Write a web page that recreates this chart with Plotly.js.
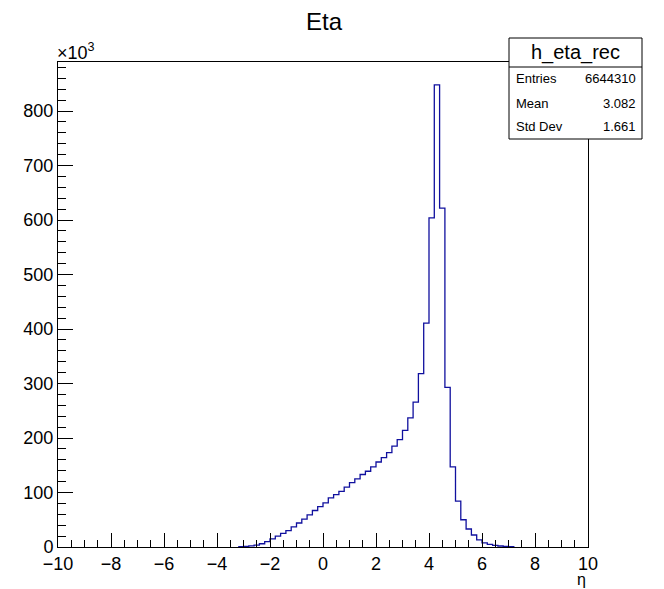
<!DOCTYPE html>
<html><head><meta charset="utf-8">
<script src="https://cdn.plot.ly/plotly-3.0.1.min.js"></script>
<style>html,body{margin:0;padding:0;background:#fff;} #chart{width:664px;height:589px;}</style>
</head><body><div id="chart"></div>
<script>
// ---- data ----
const histTitle = "Eta";
const histName = "h_eta_rec";
const xAxisLabel = "η";
const binWidth = 0.2;
const firstBinLowEdge = -3.2;
// bin contents in units of 10^3 entries, bins from -3.2 to 7.2
const countsThousands = [
  0.8, 1.2, 2, 3.5, 6, 10, 15, 20, 25, 30, 37, 44, 51, 59, 67, 74,
  81, 90, 96, 102, 110, 118, 125, 133, 139, 147, 156, 164, 173, 185, 197, 214,
  237, 266, 318, 411, 604, 848, 622, 293, 147, 84, 50, 33, 22, 13, 7.5, 5, 2.8, 1.8, 1.2, 0.8
];
const statLabels = ["Entries", "Mean", "Std Dev"];
const statValues = ["6644310", "3.082", "1.661"];
const xTickVals = [-10, -8, -6, -4, -2, 0, 2, 4, 6, 8, 10];
const yTickVals = [0, 100, 200, 300, 400, 500, 600, 700, 800];

// ---- build step outline ----
const xs = [], ys = [];
for (let i = 0; i < countsThousands.length; i++) {
  xs.push(firstBinLowEdge + i * binWidth);
  ys.push(countsThousands[i]);
}
const lastEdge = firstBinLowEdge + countsThousands.length * binWidth;
xs.push(lastEdge); ys.push(countsThousands[countsThousands.length - 1]);
xs.push(lastEdge); ys.push(0);

// ---- layout geometry ----
const W = 664, H = 589, L = 58, R = 76, T = 62, B = 42;
const pw = W - L - R, ph = H - T - B;
const px = p => (p - L) / pw;
const py = p => (H - B - p) / ph;
const FONT = "Liberation Sans, Arial, Helvetica, sans-serif";

const trace = {
  type: "scatter", mode: "lines", x: xs, y: ys,
  line: {shape: "hv", color: "#10109e", width: 1.3},
  hoverinfo: "skip", showlegend: false, cliponaxis: true
};

const axisCommon = {
  showgrid: false, zeroline: false, showline: true, linecolor: "#000", linewidth: 1,
  mirror: true, ticks: "inside", tickcolor: "#000", tickwidth: 1,
  tickfont: {family: FONT, size: 18, color: "#000"}, tickmode: "array"
};

const layout = {
  width: W, height: H,
  margin: {l: L, r: R, t: T, b: B, pad: 0},
  paper_bgcolor: "#fff", plot_bgcolor: "#fff",
  title: {text: histTitle, x: 324 / W, xanchor: "center", y: 1 - 22 / H, yanchor: "middle",
          font: {family: FONT, size: 24, color: "#000"}},
  xaxis: Object.assign({}, axisCommon, {
    range: [-10, 10], tickvals: xTickVals, ticklen: 14,
    minor: {dtick: 0.5, tick0: 0, ticks: "inside", ticklen: 7, tickcolor: "#000", tickwidth: 1, showgrid: false}
  }),
  yaxis: Object.assign({}, axisCommon, {
    range: [0, 890], tickvals: yTickVals, ticklen: 15,
    minor: {dtick: 20, tick0: 0, ticks: "inside", ticklen: 8, tickcolor: "#000", tickwidth: 1, showgrid: false}
  }),
  shapes: [
    {type: "rect", xref: "paper", yref: "paper", x0: px(509), x1: px(642), y0: py(139), y1: py(38),
     line: {color: "#000", width: 1}, fillcolor: "#fff", layer: "above"},
    {type: "line", xref: "paper", yref: "paper", x0: px(509), x1: px(642), y0: py(67), y1: py(67),
     line: {color: "#000", width: 1}, layer: "above"}
  ],
  annotations: [
    {xref: "paper", yref: "paper", x: px(55), y: py(51), xanchor: "left", yanchor: "middle",
     text: "×10<sup>3</sup>", showarrow: false, font: {family: FONT, size: 18, color: "#000"}},
    {xref: "paper", yref: "paper", x: px(581), y: py(579), xanchor: "center", yanchor: "middle",
     text: xAxisLabel, showarrow: false, font: {family: FONT, size: 16, color: "#000"}},
    {xref: "paper", yref: "paper", x: px(575.5), y: py(52.5), xanchor: "center", yanchor: "middle",
     text: histName, showarrow: false, font: {family: FONT, size: 20, color: "#000"}}
  ]
};
const rowY = [78, 103, 127];
statLabels.forEach((lab, i) => {
  layout.annotations.push({xref: "paper", yref: "paper", x: px(514), y: py(rowY[i]), xanchor: "left", yanchor: "middle",
    text: lab, showarrow: false, font: {family: FONT, size: 13, color: "#000"}});
  layout.annotations.push({xref: "paper", yref: "paper", x: px(638), y: py(rowY[i]), xanchor: "right", yanchor: "middle",
    text: statValues[i], showarrow: false, font: {family: FONT, size: 13, color: "#000"}});
});

Plotly.newPlot("chart", [trace], layout, {staticPlot: true, displayModeBar: false});
</script>
</body></html>
